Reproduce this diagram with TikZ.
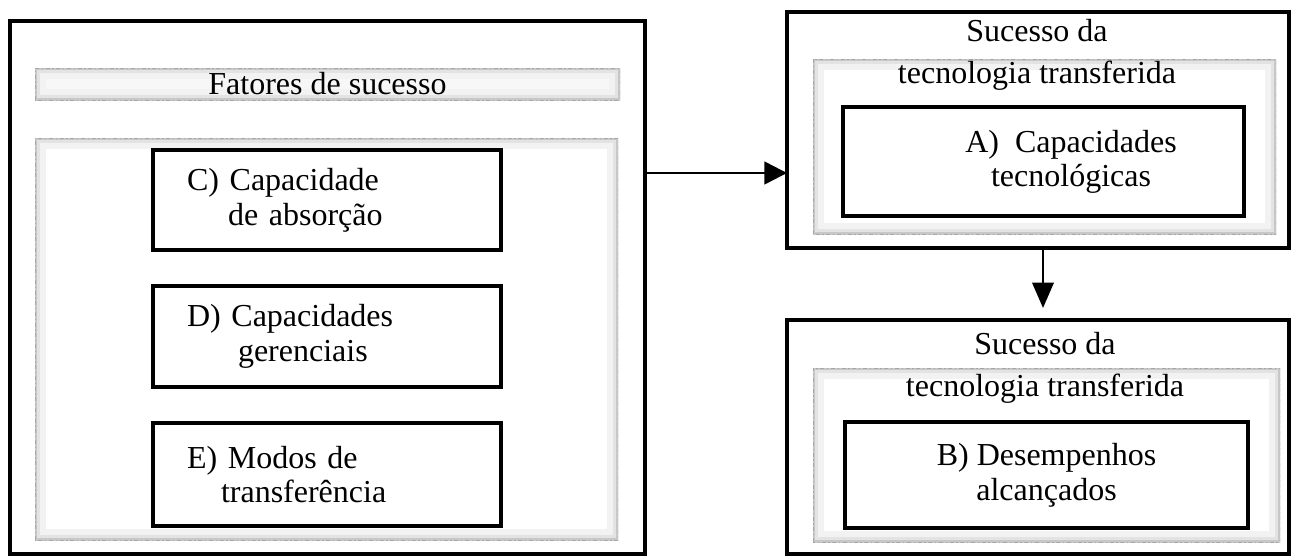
\documentclass[tikz,border=0pt]{standalone}
\usepackage{fontspec}
\setmainfont{Liberation Serif}
\usetikzlibrary{arrows.meta}
\newlength\pxu
\setlength\pxu{0.75pt}
\begin{document}
\begin{tikzpicture}[x=0.75pt,y=-0.75pt,
  txt/.style={font=\fontsize{24pt}{26pt}\selectfont, inner sep=0pt, outer sep=0pt},
  ttl/.style={font=\fontsize{24pt}{31.5pt}\selectfont, align=center, inner sep=0pt, outer sep=0pt},
  boxst/.style={draw=black, line width=2.3pt, inner sep=0pt, outer sep=0pt, fill=white},
  lbox/.style={boxst, minimum width=348\pxu, text width=280\pxu, inner xsep=34\pxu, align=left,
     font=\fontsize{24pt}{26pt}\selectfont},
  glow/.style={inner sep=0pt, outer sep=0pt, fill=#1,
    path picture={
      \draw[black!5, line width=16pt] (path picture bounding box.south west) rectangle (path picture bounding box.north east);
      \draw[black!11, line width=7pt] (path picture bounding box.south west) rectangle (path picture bounding box.north east);
      \draw[black!22, line width=2.5pt] (path picture bounding box.south west) rectangle (path picture bounding box.north east);
      \draw[black!35, line width=0.6pt, dash pattern=on 3pt off 2pt on 1pt off 2pt] (path picture bounding box.south west) rectangle (path picture bounding box.north east);
    }},
  glow/.default=white,
  arr/.style={line width=1.9pt, -{Triangle[length=17pt,width=17pt]}},
]
\useasboundingbox (0,0) rectangle (1295,557);
\fill[white] (0,0) rectangle (1295,557);

% left panel
\node[boxst, minimum width=635\pxu, minimum height=533\pxu] (left) at (327.5,287.5) {};
\node[glow=black!3, minimum width=585\pxu, minimum height=32\pxu, txt] (band) at (327.5,84) {Fatores de sucesso};
\node[glow, minimum width=583\pxu, minimum height=402\pxu] (shL) at (326.5,339) {};
\node[lbox, minimum height=100\pxu] (C) at (327,200) {C) Capacidade\\\hspace*{41\pxu}de absorção};
\node[lbox, minimum height=101\pxu] (D) at (327,336.5) {D) Capacidades\\\hspace*{51\pxu}gerenciais};
\node[lbox, minimum height=103\pxu] (E) at (327,474.5) {E) Modos de\\\hspace*{34\pxu}transferência};

% right top panel
\node[boxst, minimum width=502\pxu, minimum height=236\pxu] (topR) at (1038,130) {};
\node[glow, minimum width=463\pxu, minimum height=175\pxu] (shA) at (1044.5,146.5) {};
\node[ttl] (ttlA) at (1037,55) {Sucesso da\\tecnologia transferida};
\node[boxst, minimum width=401\pxu, minimum height=109\pxu] (A) at (1043.5,161.5) {};
\node[txt, align=center] (tA) at (1071,162) {A)\ \ Capacidades\\tecnológicas};

% right bottom panel
\node[boxst, minimum width=502\pxu, minimum height=234\pxu] (botR) at (1038,437) {};
\node[glow, minimum width=467\pxu, minimum height=174\pxu] (shB) at (1046.5,455) {};
\node[ttl] (ttlB) at (1045,368) {Sucesso da\\tecnologia transferida};
\node[boxst, minimum width=403\pxu, minimum height=106\pxu, txt, align=center] (B) at (1046.5,475) {B) Desempenhos\\alcançados};

% connectors
\coordinate (a1) at (645,173);
\draw[arr] (a1) -- (a1 -| topR.west);
\draw[line width=1.9pt, -{Triangle[length=19pt,width=16pt]}] ([xshift=5\pxu]topR.south) -- ([xshift=5\pxu,yshift=12\pxu]botR.north);
\end{tikzpicture}
\end{document}
